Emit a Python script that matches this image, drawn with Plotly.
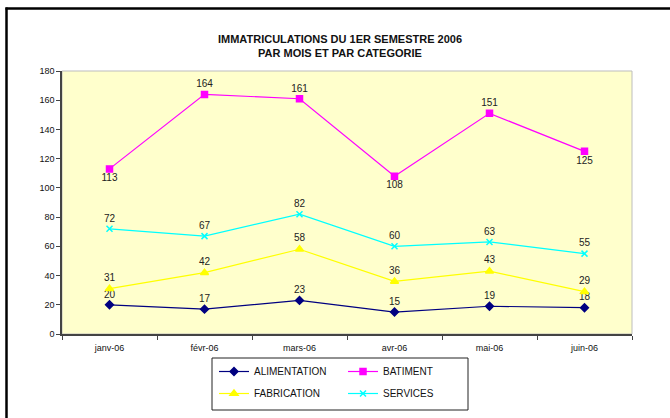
import plotly.graph_objects as go

months = ["janv-06", "févr-06", "mars-06", "avr-06", "mai-06", "juin-06"]
alimentation = [20, 17, 23, 15, 19, 18]
batiment = [113, 164, 161, 108, 151, 125]
fabrication = [31, 42, 58, 36, 43, 29]
services = [72, 67, 82, 60, 63, 55]
y_ticks = [0, 20, 40, 60, 80, 100, 120, 140, 160, 180]

FONT = "Liberation Sans, Arial, sans-serif"

W, H = 670, 418
L, R, T, B = 62, 632, 71, 334
pw, ph = R - L, B - T


def px(x):
    return (x - L) / pw


def py(y):
    return (B - y) / ph


bat_pos = ["bottom center", "top center", "top center", "bottom center", "top center", "bottom center"]

series = [
    ("ALIMENTATION", alimentation, "#000080", "diamond", 6, ["top center"] * 6, "legend", "g1"),
    ("BATIMENT", batiment, "#FF00FF", "square", 6, bat_pos, "legend2", "g2"),
    ("FABRICATION", fabrication, "#FFFF00", "triangle-up", 7, ["top center"] * 6, "legend", "g3"),
    ("SERVICES", services, "#00FFFF", "x-thin-open", 6, ["top center"] * 6, "legend2", "g4"),
]

fig = go.Figure()
for name, vals, col, sym, size, pos, leg, grp in series:
    fig.add_trace(go.Scatter(
        x=months, y=vals, name=name, mode="lines+markers+text",
        line=dict(color=col, width=1.2),
        marker=dict(symbol=sym, size=size, color=col, line=dict(color=col, width=1.5)),
        text=[str(v) for v in vals], textposition=pos,
        textfont=dict(family=FONT, size=10, color="#222222"),
        legend=leg, legendgroup=grp,
    ))

shapes = [
    # plot area light border (top/right)
    dict(type="rect", xref="paper", yref="paper", x0=0, x1=1, y0=0, y1=1,
         line=dict(color="#BDBDBD", width=1), layer="below"),
    # legend box
    dict(type="rect", xref="paper", yref="paper", x0=px(212), x1=px(468), y0=py(410), y1=py(358),
         line=dict(color="#222222", width=1)),
    # outer chart frame (top & left)
    dict(type="line", xref="paper", yref="paper", x0=px(5.5), x1=px(700), y0=py(8.5), y1=py(8.5),
         line=dict(color="#000000", width=2.5)),
    dict(type="line", xref="paper", yref="paper", x0=px(6.5), x1=px(6.5), y0=py(7.5), y1=py(440),
         line=dict(color="#000000", width=2.5)),
]

leg_common = dict(
    orientation="v", traceorder="grouped", tracegroupgap=3,
    font=dict(family=FONT, size=10, color="#111111"),
    bgcolor="rgba(0,0,0,0)", borderwidth=0,
    xanchor="left", yanchor="top", itemwidth=30,
)

fig.update_layout(
    width=W, height=H,
    margin=dict(l=L, r=W - R, t=T, b=H - B, autoexpand=False),
    paper_bgcolor="white", plot_bgcolor="#FFFFCC",
    font=dict(family=FONT, size=9, color="#111111"),
    title=dict(
        text="<b>IMMATRICULATIONS DU 1ER SEMESTRE 2006<br>PAR MOIS ET PAR CATEGORIE</b>",
        x=px(340), xanchor="center", xref="paper",
        y=1 - 42.5 / H, yanchor="middle", yref="container",
        font=dict(family=FONT, size=11, color="#111111"),
    ),
    xaxis=dict(
        type="category", categoryorder="array", categoryarray=months,
        showgrid=False, zeroline=False, showline=True, linecolor="#444444", linewidth=1.5,
        ticks="outside", ticklen=4, tickcolor="#444444", tickson="boundaries",
        tickfont=dict(family=FONT, size=9, color="#111111"),
        ticklabelstandoff=4,
        range=[-0.5, 5.5],
    ),
    yaxis=dict(
        range=[0, 180], tickvals=y_ticks, showgrid=False, zeroline=False,
        showline=True, linecolor="#444444", linewidth=1.5,
        ticks="outside", ticklen=4, tickcolor="#444444",
        tickfont=dict(family=FONT, size=9, color="#111111"),
    ),
    legend=dict(x=px(214), y=py(357), **leg_common),
    legend2=dict(x=px(343), y=py(357), **leg_common),
    shapes=shapes,
    showlegend=True,
)

fig.write_html(
    "out.html",
    config={"displayModeBar": False},
    post_script="document.body.style.margin='0';document.body.style.overflow='hidden';",
)
